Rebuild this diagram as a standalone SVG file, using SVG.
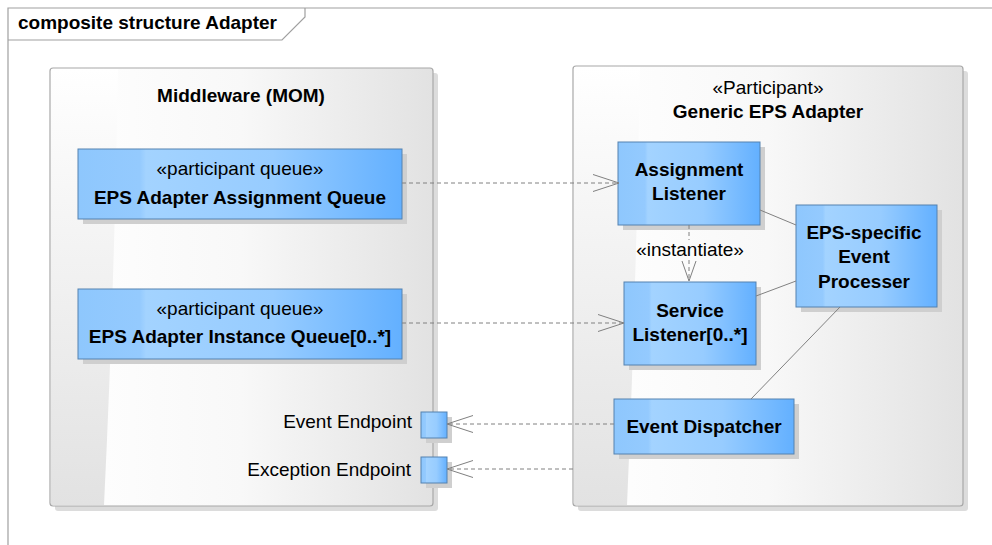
<svg xmlns="http://www.w3.org/2000/svg" width="992" height="545" viewBox="0 0 992 545">
<style>
.t{font-family:"Liberation Sans",Arial,sans-serif;font-size:19px;fill:#000}
.b{font-weight:bold}
.m{text-anchor:middle}
.e{text-anchor:end}
.cfill{fill:url(#gray)}
.strip{fill:url(#stripg)}
.cborder{fill:none;stroke:#a8a8a8;stroke-width:1.2}
.cshadow{fill:#dcdcdc}
.node{fill:url(#blue);stroke:#5482b0;stroke-width:1}
.nshadow{fill:#cfcfcf}
.dash{stroke:#808080;stroke-width:1;stroke-dasharray:4 3;fill:none}
.solid{stroke:#808080;stroke-width:1;fill:none}
.frame{stroke:#a0a0a0;stroke-width:1.2;fill:none}
</style>
<defs>
<linearGradient id="gray" x1="0" y1="0" x2="1" y2="0">
<stop offset="0" stop-color="#ffffff"/>
<stop offset="0.5" stop-color="#f8f8f8"/>
<stop offset="1" stop-color="#e2e2e2"/>
</linearGradient>
<linearGradient id="stripg" x1="0" y1="0" x2="0" y2="1">
<stop offset="0" stop-color="#ffffff"/>
<stop offset="0.3" stop-color="#f6f6f6"/>
<stop offset="1" stop-color="#e2e2e2"/>
</linearGradient>
<linearGradient id="blue" x1="0" y1="0" x2="1" y2="0">
<stop offset="0" stop-color="#8ec7fd"/>
<stop offset="0.19" stop-color="#94cafe"/>
<stop offset="0.21" stop-color="#a3d3ff"/>
<stop offset="0.6" stop-color="#97ccff"/>
<stop offset="1" stop-color="#63b0ff"/>
</linearGradient>
<marker id="arr" markerUnits="userSpaceOnUse" viewBox="-28 -10 30 20" markerWidth="30" markerHeight="20" refX="0" refY="0" orient="auto">
<path d="M-26,-8.5 L0,0 L-26,8.5" fill="none" stroke="#808080" stroke-width="1"/>
</marker>
<marker id="arrs" markerUnits="userSpaceOnUse" viewBox="-22 -10 24 20" markerWidth="24" markerHeight="20" refX="0" refY="0" orient="auto">
<path d="M-20,-7 L0,0 L-20,7" fill="none" stroke="#808080" stroke-width="1"/>
</marker>
</defs>
<rect width="992" height="545" fill="#ffffff"/>
<g id="frame">
<path class="frame" d="M8,545 L8,8 L992,8"/>
<path class="frame" d="M8,40 L282,40 L305,17 L305,8"/>
<text class="t b" x="18" y="29">composite structure Adapter</text>
</g>
<g id="middleware">
<rect class="cshadow" x="55" y="73" width="383" height="438" rx="3"/>
<rect class="cfill" x="50" y="68" width="383" height="438" rx="3"/>
<path class="strip" d="M51,69 L118,69 Q114,300 104,505 L51,505 Z"/>
<rect class="cborder" x="50" y="68" width="383" height="438" rx="3"/>
<text class="t b m" x="241" y="102">Middleware (MOM)</text>
</g>
<g id="generic-eps-adapter">
<rect class="cshadow" x="578" y="71" width="390" height="440" rx="3"/>
<rect class="cfill" x="573" y="66" width="390" height="440" rx="3"/>
<path class="strip" d="M574,67 L640,67 Q636,300 627,505 L574,505 Z"/>
<rect class="cborder" x="573" y="66" width="390" height="440" rx="3"/>
<text class="t m" x="768" y="94">«Participant»</text>
<text class="t b m" x="768" y="118">Generic EPS Adapter</text>
</g>
<g id="queue-assignment">
<rect class="nshadow" x="83" y="154" width="324" height="70"/>
<rect class="node" x="78" y="149" width="324" height="70"/>
<text class="t m" x="240" y="175">«participant queue»</text>
<text class="t b m" x="240" y="204">EPS Adapter Assignment Queue</text>
</g>
<g id="queue-instance">
<rect class="nshadow" x="83" y="294" width="324" height="70"/>
<rect class="node" x="78" y="289" width="324" height="70"/>
<text class="t m" x="240" y="315">«participant queue»</text>
<text class="t b m" x="240" y="343">EPS Adapter Instance Queue[0..*]</text>
</g>
<g id="port-event">
<rect class="nshadow" x="426" y="417" width="26" height="26"/>
<rect class="node" x="421" y="412" width="26" height="26"/>
<text class="t e" x="412" y="428">Event Endpoint</text>
</g>
<g id="port-exception">
<rect class="nshadow" x="426" y="462" width="26" height="26"/>
<rect class="node" x="421" y="457" width="26" height="26"/>
<text class="t e" x="411" y="476">Exception Endpoint</text>
</g>
<g id="assignment-listener">
<rect class="nshadow" x="623" y="147" width="142" height="83"/>
<rect class="node" x="618" y="142" width="142" height="83"/>
<text class="t b m" x="689" y="176">Assignment</text>
<text class="t b m" x="689" y="200">Listener</text>
</g>
<g id="service-listener">
<rect class="nshadow" x="629" y="287" width="132" height="83"/>
<rect class="node" x="624" y="282" width="132" height="83"/>
<text class="t b m" x="690" y="317">Service</text>
<text class="t b m" x="690" y="341">Listener[0..*]</text>
</g>
<g id="eps-event-processer">
<rect class="nshadow" x="801" y="210" width="141" height="102"/>
<rect class="node" x="796" y="205" width="141" height="102"/>
<text class="t b m" x="864" y="239">EPS-specific</text>
<text class="t b m" x="864" y="263">Event</text>
<text class="t b m" x="864" y="288">Processer</text>
</g>
<g id="event-dispatcher">
<rect class="nshadow" x="619" y="404" width="180" height="55"/>
<rect class="node" x="614" y="399" width="180" height="55"/>
<text class="t b m" x="704" y="433">Event Dispatcher</text>
</g>
<g id="connectors">
<path class="dash" d="M402,183 L619,183" marker-end="url(#arr)"/>
<path class="dash" d="M402,323 L624,323" marker-end="url(#arr)"/>
<path class="dash" d="M689,225 L689,240"/>
<path class="dash" d="M689,260 L689,281" marker-end="url(#arrs)"/>
<text class="t m" x="690" y="256">«instantiate»</text>
<path class="solid" d="M760,210 L796,225"/>
<path class="solid" d="M756,296 L796,281"/>
<path class="solid" d="M840,307 L751,399"/>
<path class="dash" d="M614,424 L447,424" marker-end="url(#arr)"/>
<path class="dash" d="M573,469 L447,469" marker-end="url(#arr)"/>
</g>
</svg>
